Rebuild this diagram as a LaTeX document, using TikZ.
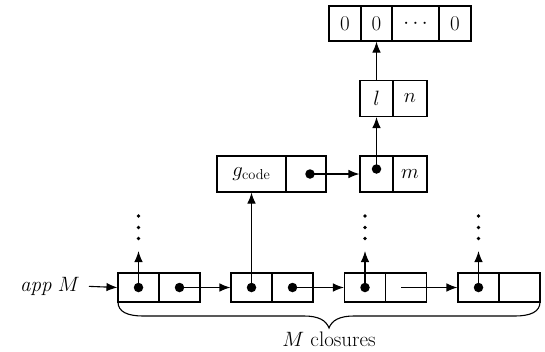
\documentclass[tikz,border=0pt]{standalone}
\usetikzlibrary{arrows.meta,calc}
\begin{document}
\begin{tikzpicture}[x=1pt,y=-1pt]
\tikzset{
  lbl/.style={font=\fontsize{21}{25}\selectfont},
  cell/.style={draw, line width=1.1pt, inner sep=0pt, minimum height=29pt, minimum width=41pt, lbl},
  tall/.style={cell, minimum height=36pt},
  ptr/.style={fill, circle, inner sep=0pt, minimum size=9.5pt},
  link/.style={line width=1.1pt, -{Latex[length=11pt,width=8.5pt]}},
  more/.style={fill, circle, inner sep=0pt, minimum size=3.6pt},
}
\useasboundingbox (0,0) rectangle (545,351);

% closure cells on the bottom row
\foreach \n/\x in {a/138.5, b/251.5, c/365, d/478.5} {
  \node[cell] (\n1) at (\x,287.5) {};
  \node[cell] (\n2) at (\x+41,287.5) {};
}

% pointer dots
\node[ptr] (pa1) at (a1.center) {};
\node[ptr] (pa2) at (a2.center) {};
\node[ptr] (pb1) at (b1.center) {};
\node[ptr] (pb2) at (b2.center) {};
\node[ptr] (pc1) at (c1.center) {};
\node[ptr] (pd1) at (d1.center) {};
\coordinate (pc2) at ($(c2.center)+(-5,0)$);

% upward pointers that continue out of view
\foreach \n/\x in {a/138.5, c/365, d/478.5} {
  \coordinate (u\n) at (\x,251);
  \node[more] (v\n1) at (\x,238.5) {};
  \node[more] (v\n2) at (\x,227.5) {};
  \node[more] (v\n3) at (\x,216) {};
  \draw[link] (p\n1.center) -- (u\n);
}

% code pointer block
\node[tall, minimum width=69pt] (g1) at (251.5,174) {$g_{\mathrm{code}}$};
\node[tall, minimum width=40pt] (g2) at (306,174) {};
\node[ptr] (pg2) at (310,174) {};

% environment blocks
\node[tall, minimum width=33pt] (m1) at (376.5,174) {};
\node[tall, minimum width=34pt] (m2) at (410,174) {$m$};
\node[ptr] (pm1) at (376.5,169) {};
\node[tall, minimum width=33pt] (l1) at (376.5,98.5) {$l$};
\node[tall, minimum width=34pt] (l2) at (410,98.5) {$n$};

% zeroed array
\node[tall, minimum height=35pt, minimum width=32pt] (z1) at (345,23.5) {0};
\node[tall, minimum height=35pt, minimum width=31pt] (z2) at (376.5,23.5) {0};
\node[tall, minimum height=35pt, minimum width=47pt] (z3) at (415.5,23.5) {$\cdots$};
\node[tall, minimum height=35pt, minimum width=32pt] (z4) at (455,23.5) {0};

% entry label
\node[lbl, anchor=east, inner sep=0pt] (app) at (80,286) {\textit{app} $M$};

% links
\draw[link, shorten <=9pt] (app.east) -- (a1.west);
\draw[link] (pa2.center) -- (b1.west);
\draw[link] (pb1.center) -- (g1.south);
\draw[link] (pb2.center) -- (c1.west);
\draw[link] (pc2) -- (d1.west);
\draw[link] (pg2.center) -- (m1.west);
\draw[link] (pm1.center) -- (l1.south);
\draw[link] (l1.north) -- (z2.south);

% brace under the closures
\draw[line width=1.1pt] (118,302) .. controls (118,312) and (128,316) .. (143,316)
  -- (304,316) .. controls (318,316) and (326,320) .. (329,328)
  .. controls (332,320) and (340,316) .. (354,316)
  -- (515,316) .. controls (530,316) and (540,312) .. (540,302);
\node[lbl] (count) at (329,339) {$M$ closures};
\end{tikzpicture}
\end{document}
